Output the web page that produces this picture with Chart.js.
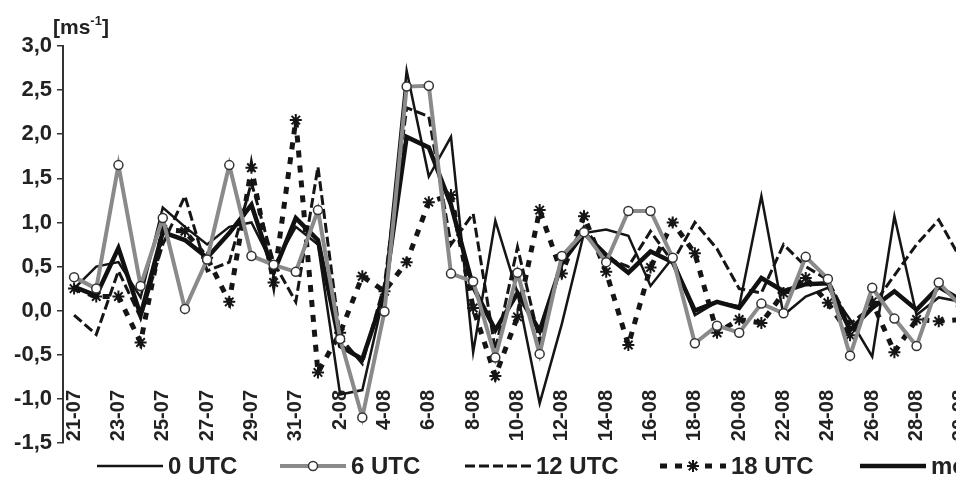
<!DOCTYPE html>
<html>
<head>
<meta charset="utf-8">
<script src="https://cdn.jsdelivr.net/npm/chart.js@4/dist/chart.umd.min.js"></script>
<style>
  html, body { margin: 0; padding: 0; background: #fff; overflow: hidden; }
  #wrap { width: 980px; height: 477px; }
</style>
</head>
<body>
<div id="wrap"><canvas id="c" width="980" height="477"></canvas></div>
<script>
// Daily dates, 21 July – 30 August
const dates = [
  '21-07','22-07','23-07','24-07','25-07','26-07','27-07','28-07','29-07','30-07','31-07',
  '1-08','2-08','3-08','4-08','5-08','6-08','7-08','8-08','9-08','10-08',
  '11-08','12-08','13-08','14-08','15-08','16-08','17-08','18-08','19-08','20-08',
  '21-08','22-08','23-08','24-08','25-08','26-08','27-08','28-08','29-08','30-08'
];

// Values in m/s for each observation term
const utc00 = [
  0.25, 0.50, 0.55, 0.15, 1.17, 0.95, 0.75, 0.95, 1.00, 0.50, 0.95,
  0.75, -0.95, -0.90, 0.20, 2.72, 1.52, 1.97, -0.47, 1.02, 0.20,
  -1.05, -0.15, 0.88, 0.92, 0.85, 0.28, 0.60, -0.05, 0.10, 0.05,
  1.30, -0.05, 0.16, 0.26, -0.10, -0.52, 1.07, -0.05, 0.15, 0.10
];
const utc06 = [
  0.38, 0.25, 1.65, 0.28, 1.05, 0.02, 0.58, 1.65, 0.62, 0.52, 0.44,
  1.14, -0.32, -1.21, -0.01, 2.54, 2.55, 0.42, 0.33, -0.53, 0.43,
  -0.49, 0.62, 0.89, 0.55, 1.13, 1.13, 0.60, -0.37, -0.17, -0.25,
  0.08, -0.03, 0.61, 0.36, -0.51, 0.26, -0.09, -0.40, 0.32, 0.05
];
const utc12 = [
  -0.05, -0.27, 0.45, -0.08, 0.75, 1.30, 0.45, 0.55, 1.45, 0.55, 0.10,
  1.63, -0.30, -0.60, 0.30, 2.30, 2.20, 0.75, 1.10, -0.45, 0.72,
  -0.35, 0.55, 0.95, 0.60, 0.50, 0.90, 0.55, 1.00, 0.70, 0.25,
  0.20, 0.75, 0.50, 0.35, -0.15, 0.05, 0.40, 0.75, 1.03, 0.58
];
const utc18 = [
  0.25, 0.16, 0.16, -0.36, 0.92, 0.90, 0.60, 0.10, 1.62, 0.32, 2.16,
  -0.70, -0.25, 0.39, 0.22, 0.55, 1.23, 1.31, 0.03, -0.74, -0.07,
  1.14, 0.42, 1.07, 0.44, -0.39, 0.49, 1.00, 0.65, -0.25, -0.10,
  -0.14, 0.20, 0.37, 0.09, -0.28, 0.10, -0.47, -0.10, -0.12, -0.10
];
const dailyMean = [
  0.27, 0.17, 0.71, -0.05, 0.89, 0.80, 0.60, 0.88, 1.20, 0.43, 1.05,
  0.80, -0.40, -0.55, 0.20, 1.97, 1.85, 1.20, 0.27, -0.22, 0.20,
  -0.23, 0.54, 0.88, 0.63, 0.43, 0.67, 0.55, 0.00, 0.10, 0.03,
  0.37, 0.22, 0.30, 0.31, -0.22, 0.03, 0.22, 0.01, 0.27, 0.12
];

const seriesNames = ['0 UTC', '6 UTC', '12 UTC', '18 UTC', 'mean'];
const yTickMin = -1.5, yTickMax = 3.0, yTickStep = 0.5;

const FONT = '"Liberation Sans", Arial, sans-serif';
const INK = '#222';

// Date labels inside the plot, unit label and the legend row
const decorations = {
  id: 'decorations',
  beforeDatasetsDraw(chart) {
    const { ctx, chartArea, scales } = chart;
    ctx.save();
    ctx.font = 'bold 20px ' + FONT;
    ctx.fillStyle = INK;
    ctx.textAlign = 'right';
    ctx.textBaseline = 'middle';
    dates.forEach((d, i) => {
      if (i % 2) return;
      const px = scales.x.getPixelForValue(i);
      ctx.save();
      ctx.translate(px, chartArea.bottom - 53);
      ctx.rotate(-Math.PI / 2);
      ctx.fillText(d, 0, 0);
      ctx.restore();
    });
    ctx.restore();
  },
  afterDraw(chart) {
    const { ctx, chartArea } = chart;
    ctx.save();
    ctx.fillStyle = INK;
    ctx.textBaseline = 'alphabetic';
    ctx.textAlign = 'left';
    // unit [ms-1]
    let ux = chartArea.left - 10;
    ctx.font = 'bold 21px ' + FONT;
    ctx.fillText('[ms', ux, 34);
    ux += ctx.measureText('[ms').width;
    ctx.font = 'bold 13px ' + FONT;
    ctx.fillText('-1', ux, 25);
    ux += ctx.measureText('-1').width;
    ctx.font = 'bold 21px ' + FONT;
    ctx.fillText(']', ux, 34);

    // legend
    const starts = [97, 280, 465, 660, 860];
    const ly = 466;
    chart.data.datasets.forEach((ds, k) => {
      const x0 = starts[k], x1 = x0 + 66;
      ctx.save();
      ctx.strokeStyle = ds.borderColor;
      ctx.lineWidth = ds.borderWidth;
      ctx.setLineDash(ds.borderDash || []);
      ctx.beginPath();
      ctx.moveTo(x0, ly);
      ctx.lineTo(x1, ly);
      ctx.stroke();
      ctx.setLineDash([]);
      if (ds.pointRadius > 0) {
        const cx = (x0 + x1) / 2;
        if (ds.pointStyle === 'circle') {
          ctx.fillStyle = ds.pointBackgroundColor;
          ctx.strokeStyle = ds.pointBorderColor;
          ctx.lineWidth = ds.pointBorderWidth;
          ctx.beginPath();
          ctx.arc(cx, ly, ds.pointRadius, 0, Math.PI * 2);
          ctx.fill();
          ctx.stroke();
        } else {
          ctx.fillStyle = '#fff';
          ctx.fillRect(cx - 9, ly - 8, 18, 16);
          ctx.strokeStyle = ds.pointBorderColor;
          ctx.lineWidth = ds.pointBorderWidth;
          const r = ds.pointRadius;
          ctx.beginPath();
          for (let a = 0; a < 4; a++) {
            const t = a * Math.PI / 4;
            ctx.moveTo(cx - r * Math.cos(t), ly - r * Math.sin(t));
            ctx.lineTo(cx + r * Math.cos(t), ly + r * Math.sin(t));
          }
          ctx.stroke();
        }
      }
      ctx.restore();
      ctx.font = 'bold 24px ' + FONT;
      ctx.fillStyle = INK;
      ctx.textBaseline = 'middle';
      ctx.fillText(ds.label, x1 + 5, ly + 1);
    });
    ctx.restore();
  }
};

const lineBase = { fill: false, tension: 0, pointRadius: 0, pointHoverRadius: 0 };

new Chart(document.getElementById('c'), {
  type: 'line',
  data: {
    labels: dates,
    datasets: [
      Object.assign({}, lineBase, {
        label: seriesNames[0], data: utc00,
        borderColor: '#151515', borderWidth: 2.5, order: 4
      }),
      Object.assign({}, lineBase, {
        label: seriesNames[1], data: utc06,
        borderColor: '#8a8a8a', borderWidth: 4, order: 0,
        pointRadius: 4.5, pointStyle: 'circle',
        pointBackgroundColor: '#fff', pointBorderColor: '#333', pointBorderWidth: 1.5
      }),
      Object.assign({}, lineBase, {
        label: seriesNames[2], data: utc12,
        borderColor: '#151515', borderWidth: 3, borderDash: [10, 4], order: 3
      }),
      Object.assign({}, lineBase, {
        label: seriesNames[3], data: utc18,
        borderColor: '#151515', borderWidth: 5, borderDash: [7, 8], order: 2,
        pointRadius: 6, pointStyle: 'star',
        pointBackgroundColor: '#151515', pointBorderColor: '#151515', pointBorderWidth: 2
      }),
      Object.assign({}, lineBase, {
        label: seriesNames[4], data: dailyMean,
        borderColor: '#111', borderWidth: 4.5, order: 1
      })
    ]
  },
  options: {
    responsive: false,
    animation: false,
    layout: { padding: { top: 46, bottom: 34, left: 0, right: 8 } },
    plugins: { legend: { display: false }, tooltip: { enabled: false } },
    scales: {
      x: { type: 'category', offset: true, display: false },
      y: {
        min: yTickMin, max: yTickMax,
        afterFit(scale) { scale.width = 63; },
        ticks: {
          stepSize: yTickStep,
          padding: 5,
          color: INK,
          font: { family: FONT, size: 22, weight: 'bold' },
          callback: v => v.toFixed(1).replace('.', ',')
        },
        grid: { drawOnChartArea: false, drawTicks: true, tickLength: 6, color: '#333', lineWidth: 1.5 },
        border: { display: true, color: '#333', width: 2 }
      }
    }
  },
  plugins: [decorations]
});
</script>
</body>
</html>
